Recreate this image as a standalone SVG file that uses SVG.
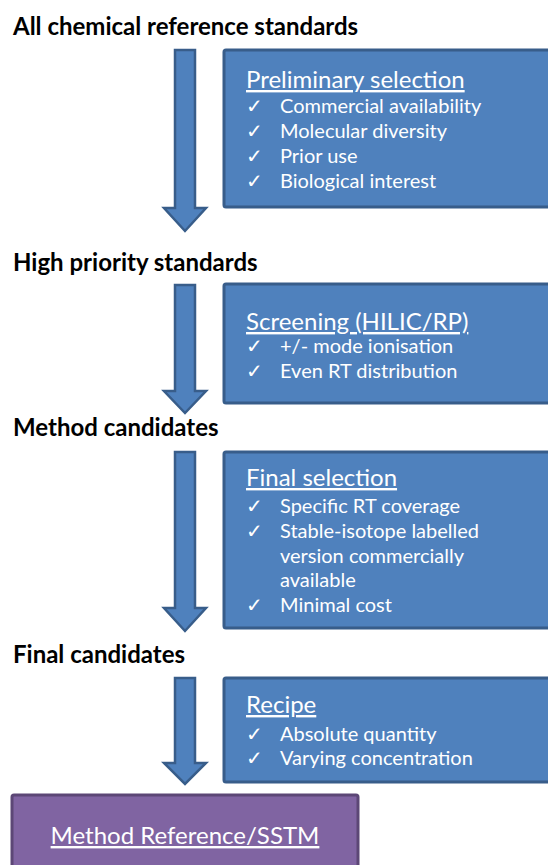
<svg xmlns="http://www.w3.org/2000/svg" width="548" height="865" viewBox="0 0 548 865">
<style>
.title{font-family:Lato,"Liberation Sans",sans-serif;font-weight:bold;font-size:24px;fill:#000}
.box{fill:#4F81BD;stroke:#385D8A;stroke-width:3}
.arrow{fill:#4F81BD;stroke:#385D8A;stroke-width:2.5;stroke-linejoin:miter}
.head{font-family:Lato,"Liberation Sans",sans-serif;font-size:24px;fill:#fff;text-decoration:underline}
.item{font-family:Lato,"Liberation Sans",sans-serif;font-size:20px;fill:#fff}
.chk{font-family:"DejaVu Sans",sans-serif;font-size:20px;fill:#fff}
.final{fill:#8064A2;stroke:#5C4776;stroke-width:3}
</style>
<rect width="548" height="865" fill="#fff"/>
<g id="t1"><text class="title" x="13" y="35">All chemical reference standards</text></g>
<g id="t2"><text class="title" x="13" y="271">High priority standards</text></g>
<g id="t3"><text class="title" x="13" y="436">Method candidates</text></g>
<g id="t4"><text class="title" x="13" y="663">Final candidates</text></g>
<g id="connectors">
<path class="arrow" d="M175,50 H195 V208 H206 L185,231 L164,208 H175 Z"/>
<path class="arrow" d="M175,285 H195 V391 H206 L185,413 L164,391 H175 Z"/>
<path class="arrow" d="M175,452 H195 V608 H206 L185,631 L164,608 H175 Z"/>
<path class="arrow" d="M175,678 H195 V763 H206 L185,784 L164,763 H175 Z"/>
</g>
<g id="b1">
<rect class="box" x="224" y="50" width="340" height="157" rx="2"/>
<text class="head" x="246" y="88">Preliminary selection</text>
<text class="chk" x="246" y="113">✓</text><text class="item" x="280" y="113">Commercial availability</text>
<text class="chk" x="246" y="138">✓</text><text class="item" x="280" y="138">Molecular diversity</text>
<text class="chk" x="246" y="163">✓</text><text class="item" x="280" y="163">Prior use</text>
<text class="chk" x="246" y="188">✓</text><text class="item" x="280" y="188">Biological interest</text>
</g>
<g id="b2">
<rect class="box" x="224" y="284" width="340" height="119" rx="2"/>
<text class="head" x="246" y="330">Screening (HILIC/RP)</text>
<text class="chk" x="246" y="353">✓</text><text class="item" x="280" y="353">+/- mode ionisation</text>
<text class="chk" x="246" y="378">✓</text><text class="item" x="280" y="378">Even RT distribution</text>
</g>
<g id="b3">
<rect class="box" x="224" y="452" width="340" height="176" rx="2"/>
<text class="head" x="246" y="486">Final selection</text>
<text class="chk" x="246" y="513">✓</text><text class="item" x="280" y="513">Specific RT coverage</text>
<text class="chk" x="246" y="538">✓</text><text class="item" x="280" y="538">Stable-isotope labelled</text>
<text class="item" x="280" y="563">version commercially</text>
<text class="item" x="280" y="587">available</text>
<text class="chk" x="246" y="612">✓</text><text class="item" x="280" y="612">Minimal cost</text>
</g>
<g id="b4">
<rect class="box" x="224" y="678" width="340" height="104" rx="2"/>
<text class="head" x="246" y="713">Recipe</text>
<text class="chk" x="246" y="741">✓</text><text class="item" x="280" y="741">Absolute quantity</text>
<text class="chk" x="246" y="765">✓</text><text class="item" x="280" y="765">Varying concentration</text>
</g>
<g id="b5">
<rect class="final" x="12" y="795" width="346" height="90" rx="2"/>
<text class="head" x="185" y="844" text-anchor="middle">Method Reference/SSTM</text>
</g>
</svg>
